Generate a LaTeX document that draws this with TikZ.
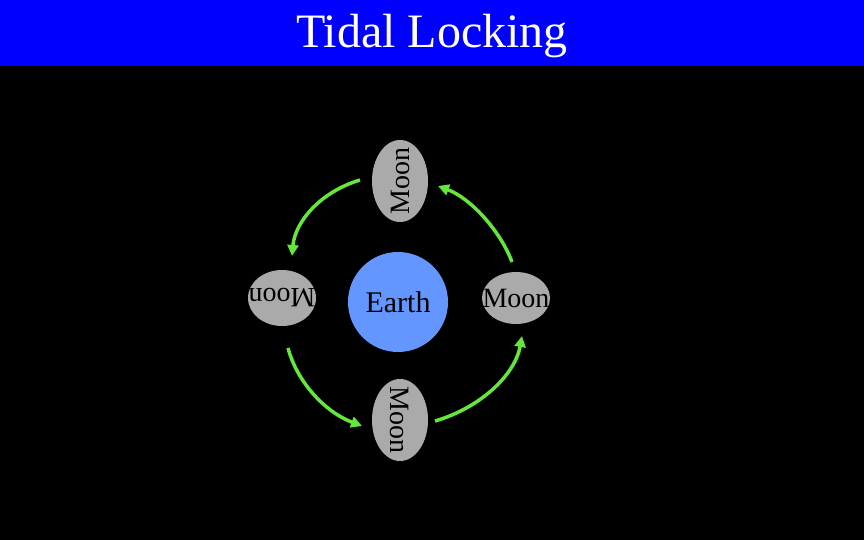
\documentclass[tikz,border=0pt]{standalone}
\usepackage{fontspec}
\setmainfont{Liberation Serif}
\usetikzlibrary{shapes.geometric,arrows.meta}
\definecolor{earthc}{RGB}{100,150,255}
\definecolor{moonc}{RGB}{170,170,170}
\definecolor{arrc}{RGB}{100,230,60}
\newcommand{\moontxt}{\makebox[0pt]{Moon}}
\tikzset{
 moon/.style={ellipse,fill=moonc,minimum width=70pt,minimum height=54pt,inner sep=0pt,font=\fontsize{28}{28}\selectfont,text=black},
 orbit/.style={draw=arrc,line width=3.5pt,-{Triangle[length=11pt,width=11pt]}}
}
\begin{document}
\begin{tikzpicture}[x=1pt,y=-1pt]
\fill[black] (0,0) rectangle (864,540);
\useasboundingbox (0,0) rectangle (864,540);
\fill[blue] (0,0) rectangle (864,66);
\node[text=white,font=\fontsize{48}{48}\selectfont] (title) at (432,36) {Tidal Locking};
\node[circle,fill=earthc,minimum size=100pt,inner sep=0pt,font=\fontsize{30}{30}\selectfont] (earth) at (398,302) {Earth};
\node[moon,minimum width=68pt,minimum height=52pt] (mr) at (516,298) {\moontxt};
\node[moon,rotate=90,minimum width=82pt,minimum height=56pt] (mt) at (400,181) {\moontxt};
\node[moon,rotate=180,minimum width=68pt,minimum height=56pt] (ml) at (282,298) {\moontxt};
\node[moon,rotate=-90,minimum width=82pt,minimum height=56pt] (mb) at (400,420) {\moontxt};
\coordinate (a1) at (360,180); \coordinate (b1) at (292,256);
\coordinate (a2) at (512,262); \coordinate (b2) at (438,186);
\coordinate (a3) at (288,348); \coordinate (b3) at (362,426);
\coordinate (a4) at (435,421); \coordinate (b4) at (522,336);
\draw[orbit] (a1) .. controls (320,192) and (295,222) .. (b1);
\draw[orbit] (a2) .. controls (500,230) and (470,198) .. (b2);
\draw[orbit] (a3) .. controls (297,382) and (325,412) .. (b3);
\draw[orbit] (a4) .. controls (480,408) and (515,375) .. (b4);
\end{tikzpicture}
\end{document}
